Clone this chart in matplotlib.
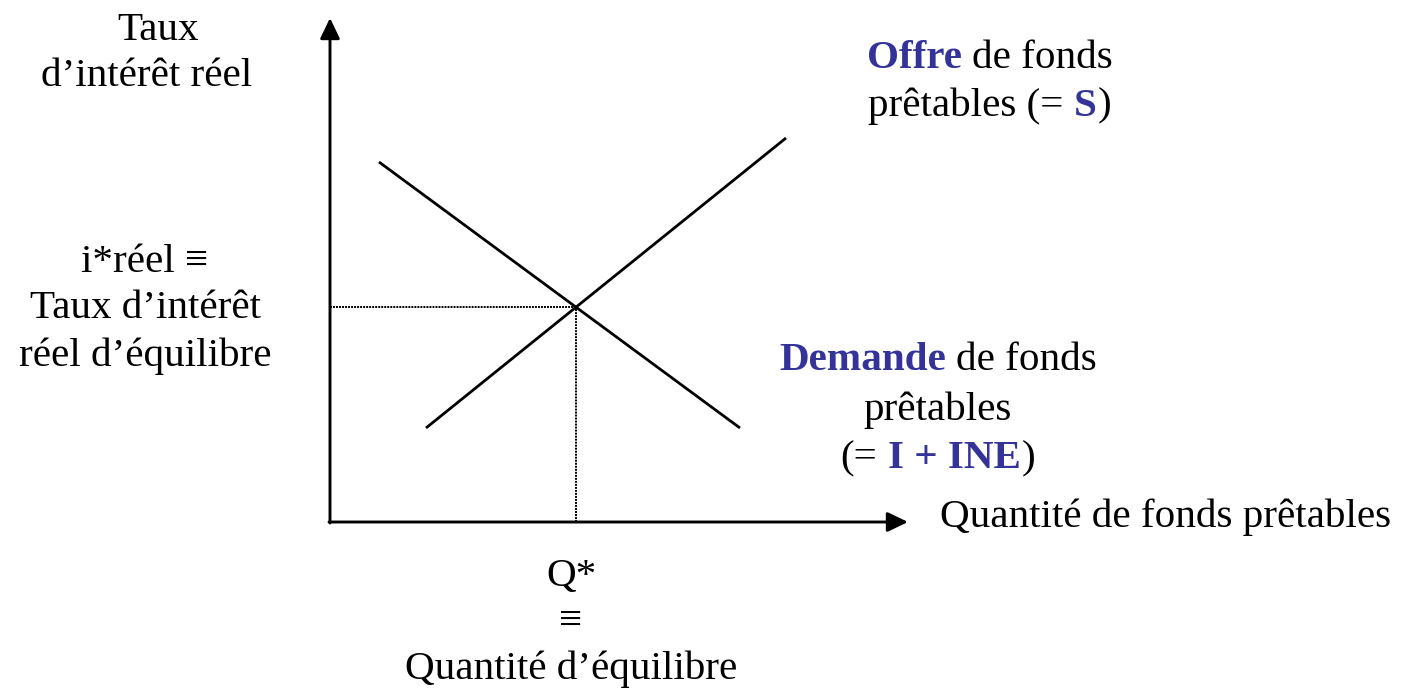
import matplotlib.pyplot as plt
from matplotlib.transforms import Affine2D

plt.rcParams['font.family'] = ['Liberation Serif', 'DejaVu Serif']

BLUE = '#333399'
FS = 29.6
W, H = 1406, 692

# schematic curves in axis units (origin at the axes corner)
supply_q = [1.92, 9.12]
supply_r = [1.88, 7.68]
demand_q = [0.98, 8.20]
demand_r = [7.20, 1.88]
q_axis_end = 11.56
r_axis_end = 10.08

# equilibrium = crossing of the two lines
s_slope = (supply_r[1] - supply_r[0]) / (supply_q[1] - supply_q[0])
d_slope = (demand_r[1] - demand_r[0]) / (demand_q[1] - demand_q[0])
q_eq = (demand_r[0] - supply_r[0] + s_slope * supply_q[0] - d_slope * demand_q[0]) / (s_slope - d_slope)
r_eq = supply_r[0] + s_slope * (q_eq - supply_q[0])

fig = plt.figure(figsize=(W / 100, H / 100), dpi=100)
ax = fig.add_axes([0, 0, 1, 1])
ax.set_xlim(-6.6, (W - 330) / 50)
ax.set_ylim(-(H - 522) / 50, 522 / 50)
ax.axis('off')

# axes with arrow heads
head = '-|>,head_length=1.25,head_width=0.6'
ax.annotate('', xy=(0, r_axis_end), xytext=(0, -0.02),
            arrowprops=dict(arrowstyle=head, lw=2.1, color='black', shrinkA=0, shrinkB=0))
ax.annotate('', xy=(q_axis_end, 0), xytext=(-0.02, 0),
            arrowprops=dict(arrowstyle=head, lw=2.1, color='black', shrinkA=0, shrinkB=0))

ax.plot(supply_q, supply_r, color='black', lw=2.0, solid_capstyle='butt')
ax.plot(demand_q, demand_r, color='black', lw=2.0, solid_capstyle='butt')
ax.plot([0, q_eq], [r_eq, r_eq], color='black', lw=1.4, linestyle=(0, (1, 0.55)))
ax.plot([q_eq, q_eq], [0, r_eq], color='black', lw=1.4, linestyle=(0, (1, 0.55)))

# text placed in pixel coordinates (origin top-left)
T = Affine2D().scale(1, -1).translate(0, H)
renderer = fig.canvas.get_renderer()
space = 0.25 * FS * 100 / 72


def line(parts, x, y, ha='center'):
    # parts: (text, colour, weight, gap before)
    arts = [fig.text(0, 0, p[0], fontsize=FS, color=p[1], fontweight=p[2], va='center', ha='left', transform=T)
            for p in parts]
    widths = [a.get_window_extent(renderer).width for a in arts]
    gaps = [0] + [p[3] for p in parts[1:]]
    total = sum(widths) + sum(gaps)
    x0 = x - total / 2 if ha == 'center' else x
    for a, w, g in zip(arts, widths, gaps):
        x0 += g
        a.set_position((x0, y))
        x0 += w


K = 'black'
line([('Taux', K, 'normal', 0)], 158, 30)
line([('d’intérêt réel', K, 'normal', 0)], 147, 77)

line([('i*réel ≡', K, 'normal', 0)], 145, 262)
line([('Taux d’intérêt', K, 'normal', 0)], 145, 308)
line([('réel d’équilibre', K, 'normal', 0)], 145, 356)

line([('Offre', BLUE, 'bold', 0), ('de fonds', K, 'normal', space)], 990, 58)
line([('prêtables (=', K, 'normal', 0), ('S', BLUE, 'bold', space), (')', K, 'normal', 1)], 990, 106)

line([('Demande', BLUE, 'bold', 0), ('de fonds', K, 'normal', space)], 938, 361)
line([('prêtables', K, 'normal', 0)], 938, 410)
line([('(=', K, 'normal', 0), ('I + INE', BLUE, 'bold', space), (')', K, 'normal', 1)], 938, 459)

line([('Quantité de fonds prêtables', K, 'normal', 0)], 940, 517, ha='left')

line([('Q*', K, 'normal', 0)], 571, 577)
line([('≡', K, 'normal', 0)], 571, 622)
line([('Quantité d’équilibre', K, 'normal', 0)], 571, 669)

fig.savefig('out.png', dpi=100)
